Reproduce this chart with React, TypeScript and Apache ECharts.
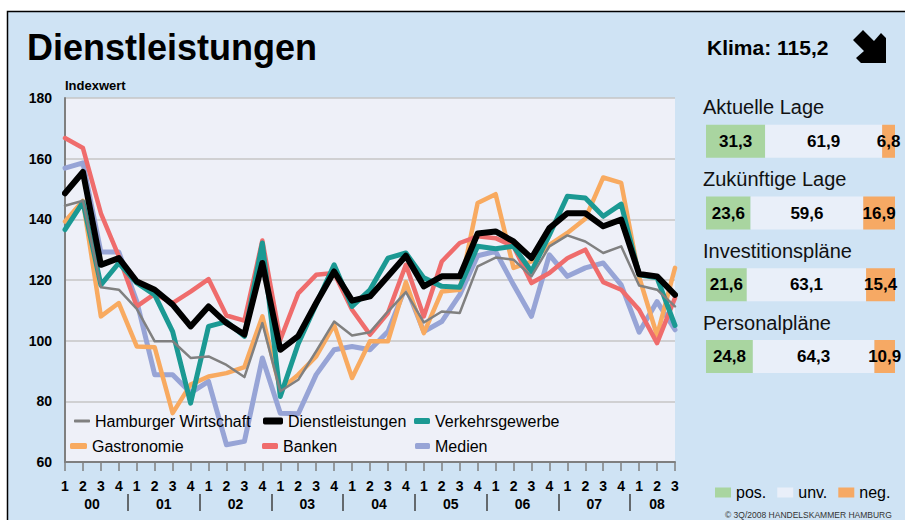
import React, { useEffect, useRef } from "react";
import * as echarts from "echarts";

const FONT = "'Liberation Sans', Arial, sans-serif";

const years = ["00", "01", "02", "03", "04", "05", "06", "07", "08"];
const quartersPerYear = [4, 4, 4, 4, 4, 4, 4, 4, 3];

const hamburgerWirtschaft = [144.5, 146.1, 117.6, 116.8, 110.5, 99.8, 99.8, 94.3, 94.8, 92, 88, 105.8, 83.3, 87.1, 96.5, 106.3, 101.7, 102.8, 109.6, 116, 106, 109.6, 109.1, 124.5, 127.4, 126.7, 121.2, 131.1, 134.7, 132.7, 128.9, 131.1, 118.2, 116.8, 111.3];
const dienstleistungen = [148.6, 155.6, 125, 127.2, 119.5, 116.8, 111.9, 104.7, 111.3, 105.8, 102, 125.6, 97, 101.5, 112.4, 122.8, 113.2, 114.6, 121.2, 128, 117.9, 121.2, 121.2, 135.3, 136, 132.7, 127.2, 137.1, 142, 142, 137.7, 139.9, 122, 121.2, 115.1];
const verkehrsgewerbe = [136.6, 145.7, 118.4, 125.6, 119, 115.1, 103, 79.4, 104.7, 106.3, 101.4, 132.2, 81.6, 99, 112, 125, 111.3, 116.8, 127.2, 128.9, 120.7, 117.9, 117.6, 131.1, 130.3, 131.1, 122.8, 134.9, 147.6, 147, 141, 145, 121.7, 120.7, 105];
const gastronomie = [139.3, 146.1, 108, 112.4, 98.1, 97.8, 76.1, 85.5, 88.2, 89.3, 91.3, 108, 83.8, 88.8, 94.8, 105.2, 87.7, 99.8, 99.8, 119.3, 102.5, 116.2, 116.8, 145.4, 148.3, 124, 126.1, 131.6, 135.5, 140.2, 153.8, 152, 121, 101.7, 124];
const banken = [166.8, 163.5, 142, 127.8, 111.3, 115.4, 112.4, 116.2, 120.3, 108.3, 106.6, 133, 100.3, 115.6, 121.7, 122.3, 110.2, 102, 109.1, 125, 108, 126.1, 132.2, 134.4, 133.8, 131.1, 119, 122.3, 127.2, 130, 119.3, 116.8, 110.2, 99.2, 114.1];
const medien = [156.9, 158.6, 129.2, 129.2, 113, 88.8, 88.8, 82.8, 86.6, 65.7, 66.8, 94.3, 76.1, 75.9, 88.8, 97, 98.1, 97, 103, 117.9, 103, 106.3, 115.1, 128, 129.4, 118.4, 108, 128.3, 121.2, 124, 125.6, 118.4, 102.8, 112.9, 103.6];

const yTicks = { min: 60, max: 180, step: 20 };

const lageCats = ["Aktuelle Lage", "Zukünftige Lage", "Investitionspläne", "Personalpläne"];
const posVals = [31.3, 23.6, 21.6, 24.8];
const unvVals = [61.9, 59.6, 63.1, 64.3];
const negVals = [6.8, 16.9, 15.4, 10.9];

const klimaText = "Klima: 115,2";
const titleText = "Dienstleistungen";
const copyright = "© 3Q/2008 HANDELSKAMMER HAMBURG";

export default function App() {
  const ref = useRef<HTMLDivElement>(null);
  useEffect(() => {
    if (!ref.current) return;
    const chart = echarts.init(ref.current, null, { renderer: "svg" });

    const cats: string[] = [];
    const yearCenters: number[] = [];
    const yearSeps: number[] = [];
    const centerMap: Record<string, string> = {};
    let idx = 0;
    years.forEach((y, yi) => {
      const n = quartersPerYear[yi];
      if (yi > 0) yearSeps.push(idx - 0.5);
      const c = idx + (n - 1) / 2;
      yearCenters.push(c);
      centerMap[String(c)] = y;
      for (let q = 1; q <= n; q++) cats.push(`${y}/${q}`);
      idx += n;
    });
    const last = cats.length - 1;

    const lineSeries = (name: string, data: number[], color: string, width: number, z: number) => ({
      name,
      type: "line",
      data,
      xAxisIndex: 0,
      yAxisIndex: 0,
      symbol: "none",
      z,
      lineStyle: { color, width, join: "round", cap: "round" },
      itemStyle: { color },
    });

    const fmt = (p: any) => Number(p.value).toFixed(1).replace(".", ",");
    const barLabel = { show: true, position: "inside", fontFamily: FONT, fontWeight: "bold", fontSize: 17, color: "#000", formatter: fmt };

    const lineLegend = (name: string, left: number, top: number, w: number, h: number) => ({
      left,
      top,
      padding: 0,
      orient: "horizontal",
      icon: "roundRect",
      itemWidth: w,
      itemHeight: h,
      z: 20,
      selectedMode: false,
      textStyle: { fontFamily: FONT, fontSize: 16, color: "#000" },
      data: [name],
    });

    const arrow = [[863, 30], [874, 41], [881, 33], [886, 38], [886, 63], [861, 63], [856, 58], [864, 51], [853, 40]];

    chart.setOption({
      animation: false,
      backgroundColor: "#ffffff",
      textStyle: { fontFamily: FONT },
      graphic: [
        { type: "rect", z: -100, shape: { x: 7.5, y: 11.5, width: 1000, height: 600 }, style: { fill: "#cfe3f4", stroke: "#000", lineWidth: 1.5 } },
        { type: "text", x: 27, y: 47, style: { text: titleText, font: `bold 36px ${FONT}`, fill: "#000", textVerticalAlign: "middle" } },
        { type: "text", x: 707, y: 47, style: { text: klimaText, font: `bold 21px ${FONT}`, fill: "#000", textVerticalAlign: "middle" } },
        { type: "polygon", shape: { points: arrow }, style: { fill: "#000" } },
        { type: "text", x: 725, y: 514.5, style: { text: copyright, font: `8.5px ${FONT}`, fill: "#333", textVerticalAlign: "middle" } },
      ],
      grid: [
        { left: 65, top: 98, width: 610, height: 364, show: true, backgroundColor: "#eef0f8", borderWidth: 0 },
        { left: 706, top: 105.4, width: 189, height: 287 },
      ],
      xAxis: [
        {
          gridIndex: 0,
          type: "category",
          data: cats,
          boundaryGap: false,
          axisLine: { lineStyle: { color: "#7f7f7f", width: 2 } },
          axisTick: { show: true, interval: 0, length: 9, lineStyle: { color: "#7f7f7f", width: 1.5 } },
          axisLabel: { interval: 0, margin: 17, fontWeight: "bold", fontSize: 14, color: "#000", fontFamily: FONT, formatter: (v: string) => v.split("/")[1] },
          splitLine: { show: false },
        },
        {
          gridIndex: 0,
          type: "value",
          min: 0,
          max: last,
          position: "bottom",
          offset: 32,
          axisLine: { show: false },
          splitLine: { show: false },
          axisTick: { show: true, customValues: yearSeps, length: 17, lineStyle: { color: "#404040", width: 1.5 } },
          axisLabel: { show: true, customValues: yearCenters, margin: 3, fontWeight: "bold", fontSize: 14, color: "#000", fontFamily: FONT, formatter: (v: number) => centerMap[String(v)] || "" },
        },
        { gridIndex: 1, type: "value", min: 0, max: 100, show: false },
      ],
      yAxis: [
        {
          gridIndex: 0,
          type: "value",
          min: yTicks.min,
          max: yTicks.max,
          interval: yTicks.step,
          name: "Indexwert",
          nameLocation: "end",
          nameGap: 6,
          nameTextStyle: { align: "left", fontWeight: "bold", fontSize: 13, color: "#000", fontFamily: FONT },
          axisLine: { show: true, lineStyle: { color: "#7f7f7f", width: 2 } },
          axisTick: { show: false },
          axisLabel: { margin: 13, fontWeight: "bold", fontSize: 14, color: "#000", fontFamily: FONT },
          splitLine: { lineStyle: { color: "#c6c6c6", width: 1.5 } },
        },
        {
          gridIndex: 1,
          type: "category",
          data: lageCats,
          inverse: true,
          axisLine: { show: false },
          axisTick: { show: false },
          axisLabel: { inside: true, margin: -3, align: "left", verticalAlign: "bottom", padding: [0, 0, 24, 0], fontSize: 20, color: "#111", fontFamily: FONT },
        },
      ],
      legend: [
        lineLegend("Hamburger Wirtschaft", 74, 413, 16, 3),
        lineLegend("Gastronomie", 70, 438, 17, 6),
        lineLegend("Dienstleistungen", 263, 413, 20, 7),
        lineLegend("Banken", 262, 438, 16, 6),
        lineLegend("Verkehrsgewerbe", 414, 413, 16, 6),
        lineLegend("Medien", 415, 438, 15, 6),
        {
          left: 715, top: 484.5, padding: 0, orient: "horizontal", icon: "rect", itemWidth: 16, itemHeight: 10, itemGap: 11, selectedMode: false,
          textStyle: { fontFamily: FONT, fontSize: 16, color: "#000" },
          data: ["pos.", "unv.", "neg."],
        },
      ],
      series: [
        lineSeries("Medien", medien, "#97a4d6", 5, 2),
        lineSeries("Gastronomie", gastronomie, "#f8aa60", 4.5, 3),
        lineSeries("Banken", banken, "#ef6c6c", 4.5, 4),
        lineSeries("Verkehrsgewerbe", verkehrsgewerbe, "#1b9993", 5, 5),
        lineSeries("Hamburger Wirtschaft", hamburgerWirtschaft, "#808080", 2.5, 6),
        lineSeries("Dienstleistungen", dienstleistungen, "#000000", 6, 7),
        { name: "pos.", type: "bar", stack: "k", xAxisIndex: 2, yAxisIndex: 1, barWidth: 33, data: posVals, itemStyle: { color: "#a9d5a0" }, label: barLabel },
        { name: "unv.", type: "bar", stack: "k", xAxisIndex: 2, yAxisIndex: 1, barWidth: 33, data: unvVals, itemStyle: { color: "#e9eff9" }, label: barLabel },
        { name: "neg.", type: "bar", stack: "k", xAxisIndex: 2, yAxisIndex: 1, barWidth: 33, data: negVals, itemStyle: { color: "#f6a964" }, label: barLabel },
      ],
    });
    return () => chart.dispose();
  }, []);
  return <div ref={ref} style={{ position: "absolute", left: 0, top: 0, width: 905, height: 520 }} />;
}
